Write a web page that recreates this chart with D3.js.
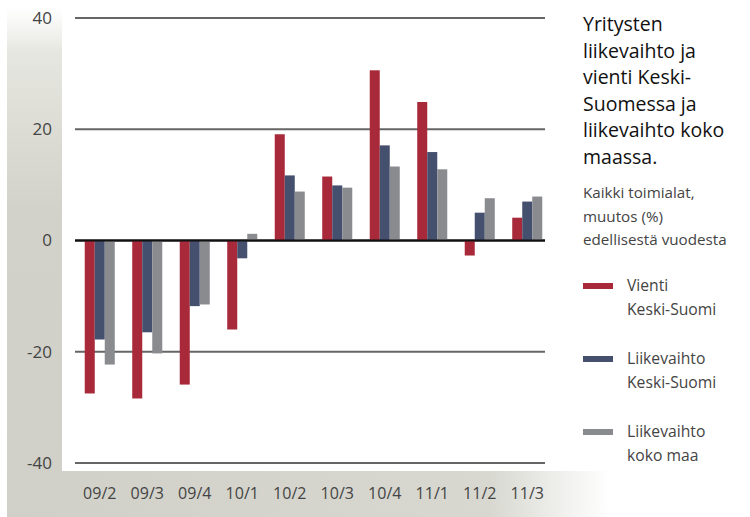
<!DOCTYPE html>
<html><head><meta charset="utf-8">
<script src="https://cdn.jsdelivr.net/npm/d3@7"></script>
<style>body{margin:0;background:#fff}svg{display:block}</style>
</head><body>
<script>
const categories = ["09/2","09/3","09/4","10/1","10/2","10/3","10/4","11/1","11/2","11/3"];
const vientiKS = [-27.5,-28.4,-25.9,-16.0,19.1,11.5,30.6,24.9,-2.7,4.1];
const liikevaihtoKS = [-17.8,-16.5,-11.8,-3.2,11.7,9.9,17.1,15.9,5.0,7.0];
const liikevaihtoMaa = [-22.3,-20.3,-11.5,1.2,8.8,9.5,13.3,12.8,7.6,7.9];
const yTicks = [40,20,0,-20,-40];
const seriesNames = ["Vienti|Keski-Suomi","Liikevaihto|Keski-Suomi","Liikevaihto|koko maa"];
const colors = ["#a8293a","#454f6e","#8a8b8f"];
const titleLines = ["Yritysten","liikevaihto ja","vienti Keski-","Suomessa ja","liikevaihto koko","maassa."];
const subLines = ["Kaikki toimialat,","muutos (%)","edellisestä vuodesta"];

const W=750,H=517;
const svg=d3.select("body").append("svg").attr("width",W).attr("height",H);
const font="'Open Sans', sans-serif";
const defs=svg.append("defs");
const gL=defs.append("linearGradient").attr("id","gl").attr("x1",0).attr("y1",0).attr("x2",0).attr("y2",1);
gL.append("stop").attr("offset",0).attr("stop-color","#fff");
gL.append("stop").attr("offset",0.09).attr("stop-color","#e6e6e0");
gL.append("stop").attr("offset",0.4).attr("stop-color","#d2d2ca");
gL.append("stop").attr("offset",1).attr("stop-color","#d0d0c8");
const gB=defs.append("linearGradient").attr("id","gb").attr("x1",0).attr("y1",0).attr("x2",1).attr("y2",0);
gB.append("stop").attr("offset",0).attr("stop-color","#d0d0c8");
gB.append("stop").attr("offset",0.8).attr("stop-color","#d8d8d1");
gB.append("stop").attr("offset",1).attr("stop-color","#fff");

svg.append("rect").attr("x",7).attr("y",8).attr("width",55).attr("height",H-8).attr("fill","url(#gl)");
svg.append("rect").attr("x",7).attr("y",471).attr("width",603).attr("height",H-471).attr("fill","url(#gb)");

const y=d3.scaleLinear().domain([-40,40]).range([463,18]);
const x0=d3.scaleBand().domain(categories).range([76,551]).paddingInner(0.368).paddingOuter(0.184);
const x1=d3.scaleBand().domain([0,1,2]).range([0,x0.bandwidth()]);

const grid=svg.append("g");
yTicks.forEach(t=>{
  grid.append("line").attr("x1",75).attr("x2",545).attr("y1",y(t)).attr("y2",y(t))
    .attr("stroke",t===0?"#111":"#666").attr("stroke-width",2);
});
const yAxis=d3.axisLeft(y).tickValues(yTicks).tickFormat(d=>String(d)).tickSize(0).tickPadding(0);
const ya=svg.append("g").attr("transform","translate(52,0)").call(yAxis);
ya.select(".domain").remove();
ya.selectAll("text").attr("font-family",font).attr("font-size",17).attr("fill","#444");

const series=[vientiKS,liikevaihtoKS,liikevaihtoMaa];
series.forEach((vals,si)=>{
  svg.append("g").selectAll("rect").data(vals).join("rect")
    .attr("x",(d,i)=>x0(categories[i])+x1(si))
    .attr("width",x1.bandwidth())
    .attr("y",d=>y(Math.max(0,d)))
    .attr("height",d=>Math.abs(y(d)-y(0)))
    .attr("fill",colors[si]);
});
svg.append("line").attr("x1",75).attr("x2",545).attr("y1",y(0)).attr("y2",y(0)).attr("stroke","#111").attr("stroke-width",2);

const xAxis=d3.axisBottom(x0).tickSize(0).tickPadding(0);
const xa=svg.append("g").attr("transform","translate(0,499)").call(xAxis);
xa.select(".domain").remove();
xa.selectAll("text").attr("font-family",font).attr("font-size",16).attr("fill","#444").attr("dy",0);

const t=svg.append("text").attr("font-family",font).attr("font-size",19.5).attr("fill","#111");
titleLines.forEach((l,i)=>t.append("tspan").attr("x",583).attr("y",31+i*26.5).text(l));
const s=svg.append("text").attr("font-family",font).attr("font-size",15.2).attr("fill","#444");
subLines.forEach((l,i)=>s.append("tspan").attr("x",583).attr("y",198+i*23.5).text(l));

seriesNames.forEach((n,i)=>{
  const yy=286+i*73;
  svg.append("rect").attr("x",583).attr("y",yy-3).attr("width",30).attr("height",6).attr("fill",colors[i]);
  const tt=svg.append("text").attr("font-family",font).attr("font-size",15.7).attr("fill","#444");
  n.split("|").forEach((l,j)=>tt.append("tspan").attr("x",627).attr("y",yy+5+j*24).text(l));
});
</script>
</body></html>
